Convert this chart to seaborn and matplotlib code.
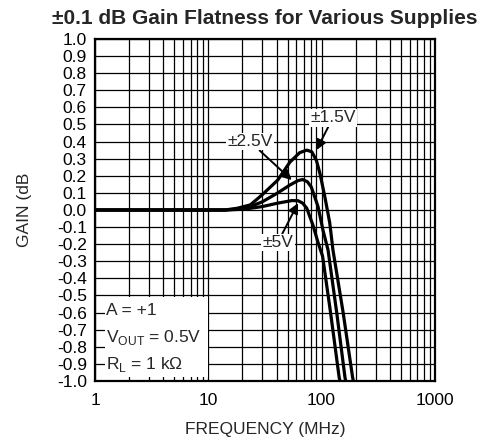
import numpy as np
import pandas as pd
import seaborn as sns
import matplotlib.pyplot as plt
from matplotlib.ticker import LogLocator, FixedLocator, NullFormatter
from matplotlib.patches import Rectangle

# values (frequency in MHz, gain in dB)
freq_15 = [1, 10, 14, 18, 23.5, 30, 41, 52.5, 64, 74, 82, 90, 97, 107, 118, 126, 155, 188, 200]
gain_15 = [0, 0, 0, 0.01, 0.03, 0.09, 0.175, 0.28, 0.335, 0.35, 0.34, 0.29, 0.21, 0.075, -0.075, -0.234, -0.60, -0.98, -1.06]

freq_25 = [1, 10, 14, 18, 23.5, 30, 41, 52.5, 62, 68, 75, 81, 93, 103, 114, 136, 161, 170]
gain_25 = [0, 0, 0, 0.005, 0.02, 0.048, 0.10, 0.146, 0.172, 0.178, 0.165, 0.135, 0.02, -0.12, -0.234, -0.60, -0.98, -1.06]

freq_5 = [1, 10, 14, 18, 23.5, 30, 41, 54.5, 62, 68, 74, 84, 93, 102, 120, 143, 152]
gain_5 = [0, 0, 0, 0.003, 0.01, 0.02, 0.04, 0.055, 0.054, 0.04, 0.01, -0.09, -0.19, -0.27, -0.60, -0.98, -1.06]

supplies = ['±1.5V', '±2.5V', '±5V']
y_ticks = [i / 10 for i in range(-10, 11)]
x_ticks = [1, 10, 100, 1000]

df = pd.concat([
    pd.DataFrame({'freq': freq_15, 'gain': gain_15, 'supply': supplies[0]}),
    pd.DataFrame({'freq': freq_25, 'gain': gain_25, 'supply': supplies[1]}),
    pd.DataFrame({'freq': freq_5, 'gain': gain_5, 'supply': supplies[2]}),
])

sns.set_style('white')
plt.rcParams['font.family'] = ['Liberation Sans', 'DejaVu Sans']
fs = 12.5

fig = plt.figure(figsize=(4.88, 4.43), dpi=100)
ax = fig.add_axes([0.195, 0.140, 0.696, 0.772])

for s in supplies:
    sub = df[df['supply'] == s]
    sns.lineplot(data=sub, x='freq', y='gain', ax=ax, color='black', lw=2.3,
                 estimator=None, sort=False, legend=False, zorder=4)

ax.set_xscale('log')
ax.set_xlim(1, 1000)
ax.set_ylim(-1.0, 1.0)
ax.xaxis.set_major_locator(FixedLocator(x_ticks))
ax.set_xticklabels([str(v) for v in x_ticks])
ax.xaxis.set_minor_locator(LogLocator(base=10, subs=np.arange(2, 10)))
ax.xaxis.set_minor_formatter(NullFormatter())
ax.yaxis.set_major_locator(FixedLocator(y_ticks))
ax.set_yticklabels(['0.0' if v == 0 else '%.1f' % v for v in y_ticks])
ax.tick_params(which='both', length=0, labelsize=fs, colors='black')
ax.tick_params(axis='x', pad=9)
ax.tick_params(axis='y', pad=6)
ax.grid(which='both', color='black', lw=0.9, zorder=1)
ax.set_axisbelow(True)
for sp in ax.spines.values():
    sp.set_linewidth(1.6)
    sp.set_color('black')

ax.set_xlabel('FREQUENCY (MHz)', fontsize=fs, labelpad=10)
ax.set_ylabel('GAIN (dB', fontsize=fs, labelpad=18)
ax.set_title('±0.1 dB Gain Flatness for Various Supplies', fontsize=15,
             fontweight='bold', pad=11)

# white box with test conditions
ax.add_patch(Rectangle((1.22, -0.977), 10 - 1.22 - 0.08, 0.47, facecolor='white',
                       edgecolor='none', zorder=2))
ax.text(1.24, -0.59, 'A = +1', fontsize=fs, va='center', zorder=3)
ax.text(1.24, -0.745, r'V$_{\mathregular{OUT}}$ = 0.5V', fontsize=fs, va='center', zorder=3)
ax.text(1.24, -0.905, r'R$_{\mathregular{L}}$ = 1 kΩ', fontsize=fs, va='center', zorder=3)

box = dict(facecolor='white', edgecolor='none', pad=1)
arrow = dict(arrowstyle='-|>', color='black', lw=1.4, mutation_scale=15, shrinkA=0, shrinkB=0)
ax.annotate(supplies[0], xy=(90, 0.35), xytext=(126, 0.54), fontsize=fs, ha='center',
            va='center', bbox=box, arrowprops=arrow, zorder=5)
ax.annotate(supplies[1], xy=(54.5, 0.175), xytext=(23.3, 0.40), fontsize=fs, ha='center',
            va='center', bbox=box, arrowprops=arrow, zorder=5)
ax.annotate(supplies[2], xy=(62, 0.04), xytext=(41, -0.19), fontsize=fs, ha='center',
            va='center', bbox=box, arrowprops=arrow, zorder=5)

fig.savefig('out.png', dpi=100)
